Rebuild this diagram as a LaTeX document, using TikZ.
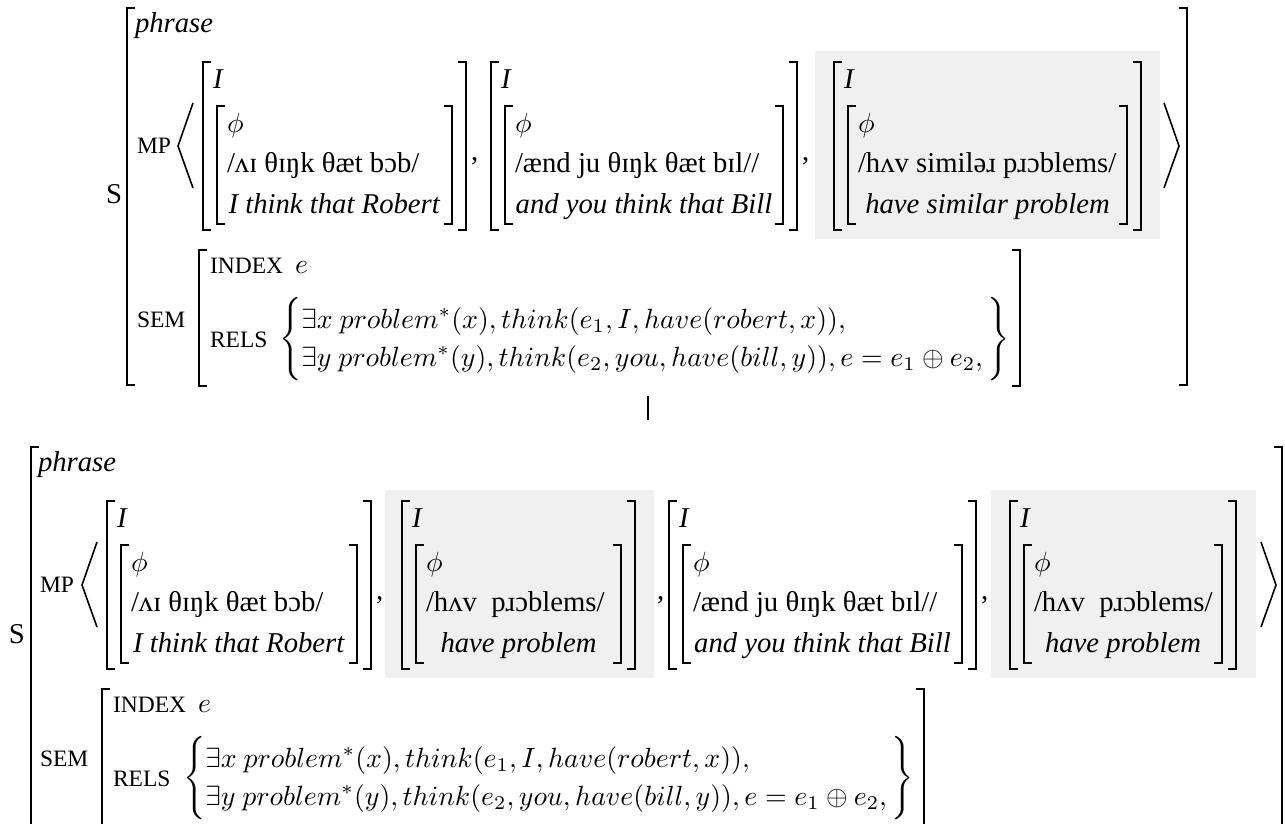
\documentclass[tikz,border=0pt]{standalone}
\usepackage{graphicx}
\usepackage[no-math]{fontspec}
\setmainfont{Liberation Serif}
\usetikzlibrary{calc}
\definecolor{boxgray}{RGB}{240,240,240}
\newcommand\featfont{\fontsize{23.5}{28}\selectfont}
\newcommand\bodyfont{\fontsize{28.7}{34.4}\selectfont}
% math set at 10pt and enlarged to the body size
\newcommand\bigmath[1]{\scalebox{2.78}{\fontsize{10}{12}\selectfont$#1$}}

% AVM brackets: x, top y, bottom y
\newcommand\openbr[3]{\draw[brak] ({#1+8},{#2}) -- ({#1},{#2}) -- ({#1},{#3}) -- ({#1+8},{#3});}
\newcommand\closebr[3]{\draw[brak] ({#1-8},{#2}) -- ({#1},{#2}) -- ({#1},{#3}) -- ({#1-8},{#3});}

% one MP element: name, left x, right x, vertical offset, phonology, gloss
\newcommand\mpitem[6]{%
  \openbr{#2}{#4+62}{#4+230}
  \openbr{#2+14}{#4+106}{#4+224}
  \closebr{#3-14}{#4+106}{#4+224}
  \closebr{#3}{#4+62}{#4+230}
  \node[lbl] (#1-type) at ({#2+10},{#4+88}) {\textit{I}};
  \node[lbl] (#1-phon) at ({#2+24},{#4+132}) {\bigmath{\phi}};
  \node[lbl] (#1-ipa) at ({#2+24},{#4+172}) {#5};
  \node[anchor=base] (#1-gloss) at ({(#2+#3)/2},{#4+213}) {\textit{#6}};
}

\newcommand\relsbody{\bigmath{\renewcommand\arraystretch{1.14}\left\{\begin{array}{@{}l@{}}
\exists x\ problem^*(x), think(e_1, I, have(robert, x)),\\
\exists y\ problem^*(y), think(e_2, you, have(bill, y)), e = e_1 \oplus e_2,\,
\end{array}\right\}}}

\begin{document}
\begin{tikzpicture}[x=1pt,y=-1pt,
  every node/.style={inner sep=0pt, outer sep=0pt, font=\bodyfont},
  lbl/.style={anchor=base west},
  feat/.style={anchor=base west, font=\featfont},
  brak/.style={line width=2.2pt, line cap=butt, line join=miter},
  ang/.style={line width=1.6pt, line join=miter},
  shade/.style={fill=boxgray, draw=none}]
\useasboundingbox (0,0) rectangle (1285,823);
\clip (0,0) rectangle (1285,823);

% ---------------- first structure ----------------
\fill[shade] (815,51) rectangle (1160,239);

\node[lbl] (sU) at (106,203) {S};
\openbr{127}{8}{385}
\closebr{1187}{8}{385}
\node[lbl] (typeU) at (135,32) {\textit{phrase}};
\node[feat] (mpU) at (137,153) {MP};
\draw[ang] (193,103) -- (178,146) -- (193,188);
\draw[ang] (1164,103) -- (1179,146) -- (1164,188);

\mpitem{u1}{203}{466}{0}{/ʌɪ θɪŋk θæt bɔb/}{I think that Robert}
\node[lbl] (cU1) at (471,160) {,};
\mpitem{u2}{491}{797}{0}{/ænd ju θɪŋk θæt bɪl//}{and you think that Bill}
\node[lbl] (cU2) at (802,160) {,};
\mpitem{u3}{834}{1141}{0}{/hʌv similəɹ pɹɔblems/}{have similar problem}

\node[feat] (semU) at (137,327) {SEM};
\openbr{199}{250}{386}
\node[feat] (idxU) at (210,273) {INDEX};
\node[lbl] (idxUv) at ($(idxU.base east)+(12,0)$) {\bigmath{e}};
\node[feat] (relU) at (210,347) {RELS};
\node[anchor=west] (relsU) at (279,339.4) {\relsbody};
\coordinate (semUr) at ($(relsU.east)+(10,0)$);
\draw[brak] ($(semUr |- 0,250)+(-8,0)$) -- (semUr |- 0,250) -- (semUr |- 0,386) -- ($(semUr |- 0,386)+(-8,0)$);

% link between the two structures
\coordinate (linkT) at (648,396);
\coordinate (linkB) at (648,420);
\draw[line width=1.5pt] (linkT) -- (linkB);

% ---------------- second structure ----------------
\fill[shade] (385,490) rectangle (654,678);
\fill[shade] (991,490) rectangle (1256,678);

\node[lbl] (sL) at (9,643) {S};
\openbr{31}{447}{830}
\closebr{1282}{447}{830}
\node[lbl] (typeL) at (38,471) {\textit{phrase}};
\node[feat] (mpL) at (40,592) {MP};
\draw[ang] (97,542) -- (82,585) -- (97,627);
\draw[ang] (1261,542) -- (1276,585) -- (1261,627);

\mpitem{l1}{107}{371}{439}{/ʌɪ θɪŋk θæt bɔb/}{I think that Robert}
\node[lbl] (cL1) at (376,599) {,};
\mpitem{l2}{402}{635}{439}{/hʌv\ \ pɹɔblems/}{have problem}
\node[lbl] (cL2) at (657,599) {,};
\mpitem{l3}{669}{976}{439}{/ænd ju θɪŋk θæt bɪl//}{and you think that Bill}
\node[lbl] (cL3) at (981,599) {,};
\mpitem{l4}{1010}{1236}{439}{/hʌv\ \ pɹɔblems/}{have problem}

\node[feat] (semL) at (40,766) {SEM};
\openbr{102}{689}{830}
\node[feat] (idxL) at (113,712) {INDEX};
\node[lbl] (idxLv) at ($(idxL.base east)+(12,0)$) {\bigmath{e}};
\node[feat] (relL) at (113,786) {RELS};
\node[anchor=west] (relsL) at (183,778.4) {\relsbody};
\coordinate (semLr) at ($(relsL.east)+(10,0)$);
\draw[brak] ($(semLr |- 0,689)+(-8,0)$) -- (semLr |- 0,689) -- (semLr |- 0,830);
\end{tikzpicture}
\end{document}
